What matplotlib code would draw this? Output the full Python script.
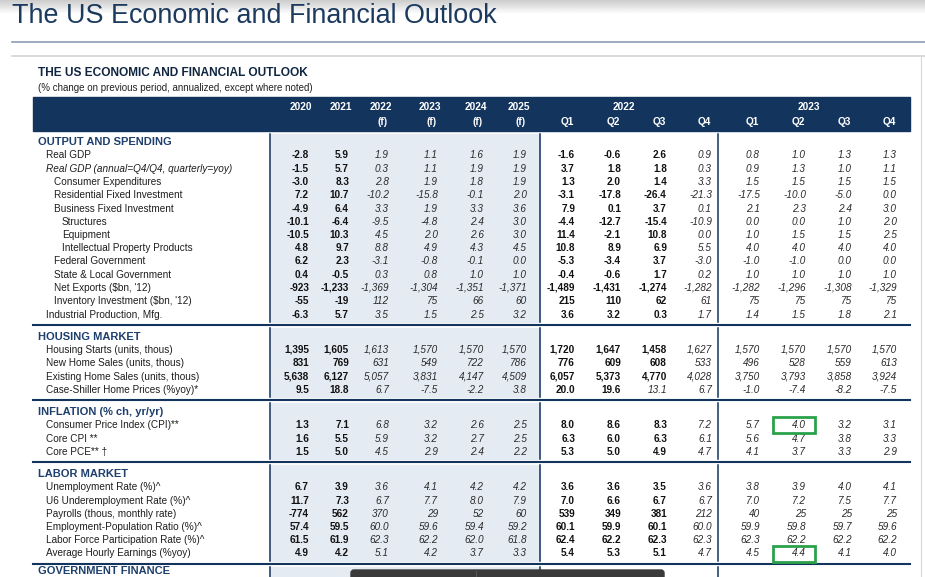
import matplotlib.pyplot as plt
from matplotlib.patches import Rectangle, FancyBboxPatch
import numpy as np

plt.rcParams['font.family'] = ['Liberation Sans', 'DejaVu Sans']

# ---- data ----
col_years = ['2020', '2021', '2022', '2023', '2024', '2025']
col_forecast = ['', '', '(f)', '(f)', '(f)', '(f)']
quarter_years = ['2022', '2023']
quarters = ['Q1', 'Q2', 'Q3', 'Q4']

sections = ['OUTPUT AND SPENDING', 'HOUSING MARKET', 'INFLATION (% ch, yr/yr)', 'LABOR MARKET']

output_labels = ['Real GDP', 'Real GDP (annual=Q4/Q4, quarterly=yoy)', 'Consumer Expenditures',
                 'Residential Fixed Investment', 'Business Fixed Investment', 'Structures',
                 'Equipment', 'Intellectual Property Products', 'Federal Government',
                 'State & Local Government', "Net Exports ($bn, '12)", "Inventory Investment ($bn, '12)",
                 'Industrial Production, Mfg.']
output_indent = [1, 1, 2, 2, 2, 3, 3, 3, 2, 2, 2, 2, 1]
output_values = [
    ['-2.8', '5.9', '1.9', '1.1', '1.6', '1.9', '-1.6', '-0.6', '2.6', '0.9', '0.8', '1.0', '1.3', '1.3'],
    ['-1.5', '5.7', '0.3', '1.1', '1.9', '1.9', '3.7', '1.8', '1.8', '0.3', '0.9', '1.3', '1.0', '1.1'],
    ['-3.0', '8.3', '2.8', '1.9', '1.8', '1.9', '1.3', '2.0', '1.4', '3.3', '1.5', '1.5', '1.5', '1.5'],
    ['7.2', '10.7', '-10.2', '-15.8', '-0.1', '2.0', '-3.1', '-17.8', '-26.4', '-21.3', '-17.5', '-10.0', '-5.0', '0.0'],
    ['-4.9', '6.4', '3.3', '1.9', '3.3', '3.6', '7.9', '0.1', '3.7', '0.1', '2.1', '2.3', '2.4', '3.0'],
    ['-10.1', '-6.4', '-9.5', '-4.8', '2.4', '3.0', '-4.4', '-12.7', '-15.4', '-10.9', '0.0', '0.0', '1.0', '2.0'],
    ['-10.5', '10.3', '4.5', '2.0', '2.6', '3.0', '11.4', '-2.1', '10.8', '0.0', '1.0', '1.5', '1.5', '2.5'],
    ['4.8', '9.7', '8.8', '4.9', '4.3', '4.5', '10.8', '8.9', '6.9', '5.5', '4.0', '4.0', '4.0', '4.0'],
    ['6.2', '2.3', '-3.1', '-0.8', '-0.1', '0.0', '-5.3', '-3.4', '3.7', '-3.0', '-1.0', '-1.0', '0.0', '0.0'],
    ['0.4', '-0.5', '0.3', '0.8', '1.0', '1.0', '-0.4', '-0.6', '1.7', '0.2', '1.0', '1.0', '1.0', '1.0'],
    ['-923', '-1,233', '-1,369', '-1,304', '-1,351', '-1,371', '-1,489', '-1,431', '-1,274', '-1,282',
     '-1,282', '-1,296', '-1,308', '-1,329'],
    ['-55', '-19', '112', '75', '66', '60', '215', '110', '62', '61', '75', '75', '75', '75'],
    ['-6.3', '5.7', '3.5', '1.5', '2.5', '3.2', '3.6', '3.2', '0.3', '1.7', '1.4', '1.5', '1.8', '2.1'],
]
output_actual_q = [3] * 13

housing_labels = ['Housing Starts (units, thous)', 'New Home Sales (units, thous)',
                  'Existing Home Sales (units, thous)', 'Case-Shiller Home Prices (%yoy)*']
housing_indent = [1, 1, 1, 1]
housing_values = [
    ['1,395', '1,605', '1,613', '1,570', '1,570', '1,570', '1,720', '1,647', '1,458', '1,627',
     '1,570', '1,570', '1,570', '1,570'],
    ['831', '769', '631', '549', '722', '786', '776', '609', '608', '533', '496', '528', '559', '613'],
    ['5,638', '6,127', '5,057', '3,831', '4,147', '4,509', '6,057', '5,373', '4,770', '4,028',
     '3,750', '3,793', '3,858', '3,924'],
    ['9.5', '18.8', '6.7', '-7.5', '-2.2', '3.8', '20.0', '19.6', '13.1', '6.7', '-1.0', '-7.4', '-8.2', '-7.5'],
]
housing_actual_q = [3, 3, 3, 2]

inflation_labels = ['Consumer Price Index (CPI)**', 'Core CPI **', 'Core PCE** \u2020']
inflation_indent = [1, 1, 1]
inflation_values = [
    ['1.3', '7.1', '6.8', '3.2', '2.6', '2.5', '8.0', '8.6', '8.3', '7.2', '5.7', '4.0', '3.2', '3.1'],
    ['1.6', '5.5', '5.9', '3.2', '2.7', '2.5', '6.3', '6.0', '6.3', '6.1', '5.6', '4.7', '3.8', '3.3'],
    ['1.5', '5.0', '4.5', '2.9', '2.4', '2.2', '5.3', '5.0', '4.9', '4.7', '4.1', '3.7', '3.3', '2.9'],
]
inflation_actual_q = [3, 3, 3]

labor_labels = ['Unemployment Rate (%)^', 'U6 Underemployment Rate (%)^', 'Payrolls (thous, monthly rate)',
                'Employment-Population Ratio (%)^', 'Labor Force Participation Rate (%)^',
                'Average Hourly Earnings (%yoy)']
labor_indent = [1, 1, 1, 1, 1, 1]
labor_values = [
    ['6.7', '3.9', '3.6', '4.1', '4.2', '4.2', '3.6', '3.6', '3.5', '3.6', '3.8', '3.9', '4.0', '4.1'],
    ['11.7', '7.3', '6.7', '7.7', '8.0', '7.9', '7.0', '6.6', '6.7', '6.7', '7.0', '7.2', '7.5', '7.7'],
    ['-774', '562', '370', '29', '52', '60', '539', '349', '381', '212', '40', '25', '25', '25'],
    ['57.4', '59.5', '60.0', '59.6', '59.4', '59.2', '60.1', '59.9', '60.1', '60.0', '59.9', '59.8', '59.7', '59.6'],
    ['61.5', '61.9', '62.3', '62.2', '62.0', '61.8', '62.4', '62.2', '62.3', '62.3', '62.3', '62.2', '62.2', '62.2'],
    ['4.9', '4.2', '5.1', '4.2', '3.7', '3.3', '5.4', '5.3', '5.1', '4.7', '4.5', '4.4', '4.1', '4.0'],
]
labor_actual_q = [3] * 6

# highlighted cells: (section index, row index, column index)
highlights = [(2, 0, 11), (3, 5, 11)]

blocks = [
    (output_labels, output_indent, output_values, output_actual_q),
    (housing_labels, housing_indent, housing_values, housing_actual_q),
    (inflation_labels, inflation_indent, inflation_values, inflation_actual_q),
    (labor_labels, labor_indent, labor_values, labor_actual_q),
]

# ---- layout ----
navy = '#12345d'
title_navy = '#1b3a5e'
sec_navy = '#1d3f6c'
shade = '#e5ebf3'
val_right = [309, 349, 389, 438, 484, 527, 575, 621, 667, 712, 760, 806, 852, 897]
indent_x = {1: 46, 2: 54, 3: 62}
row_h = 13.25
left, right = 33, 910
vlines = [270, 539.5, 718]
fs = 7.2

fig = plt.figure(figsize=(9.25, 5.77), dpi=100)
ax = fig.add_axes([0, 0, 1, 1])
ax.set_xlim(0, 925)
ax.set_ylim(577, 0)
ax.axis('off')

# top shadow
grad = np.linspace(0.80, 1.0, 50).reshape(-1, 1)
ax.imshow(grad, cmap='gray', vmin=0, vmax=1, extent=(0, 925, 14, 0), aspect='auto', zorder=0)

ax.text(12, 16, 'The US Economic and Financial Outlook', fontsize=19.4,
        color=title_navy, va='center', ha='left')
ax.plot([12, 925], [42, 42], color='#8d9db2', lw=1.2)
ax.plot([12, 925], [56, 56], color='#d4d4d4', lw=1.2)
ax.plot([921, 921], [57, 577], color='#d8d8d8', lw=0.8)

ax.text(38, 73, 'THE US ECONOMIC AND FINANCIAL OUTLOOK', fontsize=8.6, fontweight='bold',
        color='#0f2540', va='center')
ax.text(38, 88, '(% change on previous period, annualized, except where noted)', fontsize=7,
        color='#222222', va='center')

# header band
ax.add_patch(Rectangle((left, 97), right - left, 34, color=navy, zorder=1))
for i, yr in enumerate(col_years):
    ax.text(val_right[i] + 3, 107, yr, fontsize=7.3, fontweight='bold', color='white', ha='right', va='center', zorder=2)
    if col_forecast[i]:
        ax.text(val_right[i] - 1, 122, col_forecast[i], fontsize=7.3, fontweight='bold', color='white',
                ha='right', va='center', zorder=2)
for g, qy in enumerate(quarter_years):
    cols = val_right[6 + 4 * g: 10 + 4 * g]
    ax.text(cols[1] + 3, 107, qy, fontsize=7.3, fontweight='bold', color='white',
            ha='center', va='center', zorder=2)
    for q, lab in enumerate(quarters):
        ax.text(cols[q] - 8, 122, lab, fontsize=7.3, fontweight='bold', color='white',
                ha='center', va='center', zorder=2)

# sections
y = 142
prev_sep = 131
for s, (labels, indent, values, actual_q) in enumerate(blocks):
    ax.text(38, y, sections[s], fontsize=8, fontweight='bold', color=sec_navy, va='center')
    rows_y = [y + 13.5 + i * row_h for i in range(len(labels))]
    sep = rows_y[-1] + 10
    top, bot = prev_sep + 3, sep - 3
    ax.add_patch(Rectangle((vlines[0], top), vlines[1] - vlines[0], bot - top, color=shade, zorder=0.5))
    for vx in vlines:
        ax.plot([vx, vx], [top, bot], color=navy, lw=1.1, zorder=1)
    ax.plot([left, right], [sep, sep], color=navy, lw=1.5, zorder=1)
    for r, lab in enumerate(labels):
        ry = rows_y[r]
        style = 'italic' if (s == 0 and r == 1) else 'normal'
        ax.text(indent_x[indent[r]], ry, lab, fontsize=fs, style=style, color='#1e1e1e', va='center')
        for c, v in enumerate(values[r]):
            bold = c < 2 or (6 <= c < 6 + actual_q[r])
            ax.text(val_right[c], ry, v, fontsize=fs, ha='right', va='center',
                    fontweight='bold' if bold else 'normal',
                    style='normal' if bold else 'italic',
                    color='#111111' if bold else '#2a2a2a', zorder=2)
        for hs, hr, hc in highlights:
            if hs == s and hr == r:
                ax.add_patch(Rectangle((val_right[hc] - 33, ry - 8), 42, 16, fill=False,
                                       edgecolor='#2aa24a', lw=2, zorder=3))
    prev_sep = sep
    y = sep + 12

# last section header sits at the bottom edge, keep it just inside
y = prev_sep + 7.5
ax.text(38, y, 'GOVERNMENT FINANCE', fontsize=8, fontweight='bold', color=sec_navy, va='center')
ax.add_patch(Rectangle((vlines[0], prev_sep + 3), vlines[1] - vlines[0], 20, color=shade, zorder=0.5))
for vx in vlines:
    ax.plot([vx, vx], [prev_sep + 3, 580], color=navy, lw=1.1, zorder=1)

# overlay bar at the bottom edge
ax.add_patch(FancyBboxPatch((351, 570), 313, 12, boxstyle='round,pad=0,rounding_size=3',
                            color='#3a3a3a', zorder=4))
ax.plot([476, 476], [571, 577], color='#555555', lw=0.8, zorder=5)

fig.savefig('out.png', dpi=100)
